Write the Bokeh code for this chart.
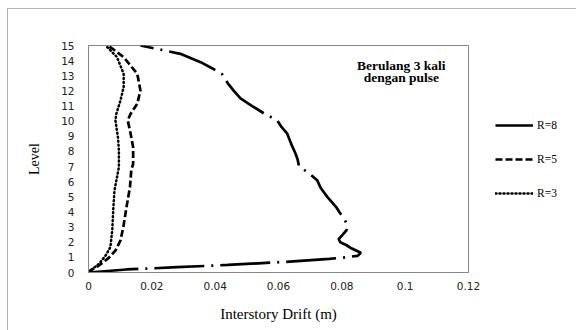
from bokeh.plotting import figure
from bokeh.models import Legend, LegendItem, Label, FixedTicker, Range1d
from bokeh.embed import file_html
from bokeh.resources import INLINE

# ---- data ----
levels_r8 = [0, 0.2, 0.35, 0.5, 0.7, 0.9, 1.0, 1.1, 1.3, 1.6, 1.8, 2.0, 2.2, 2.5, 2.8, 3.1,
             3.45, 4.0, 4.3, 5.0, 5.6, 6.1, 6.5, 6.75, 7.0, 7.5, 7.85, 8.5, 9.2, 9.6, 10.05,
             10.5, 11.0, 11.5, 12.0, 12.5, 13.1, 13.5, 13.9, 14.45, 14.7, 15.0]
drift_r8 = [0, 0.012, 0.028, 0.044, 0.062, 0.076, 0.081, 0.085, 0.086, 0.083, 0.0815, 0.0795,
            0.079, 0.0803, 0.0815, 0.0818, 0.081, 0.0792, 0.0783, 0.0754, 0.0733, 0.0722, 0.070,
            0.0683, 0.0665, 0.066, 0.0654, 0.064, 0.0627, 0.061, 0.0596, 0.0555, 0.0517, 0.048,
            0.0459, 0.044, 0.0422, 0.039, 0.0354, 0.029, 0.0233, 0.0164]

levels_r5 = [0, 0.13, 0.46, 0.97, 1.45, 2.12, 3.0, 4.32, 5.64, 6.74, 7.18, 8.28, 9.17, 10.05,
             10.49, 11.15, 12.03, 13.13, 14.23, 14.8, 15.0]
drift_r5 = [0, 0.0006, 0.0033, 0.0064, 0.0085, 0.0101, 0.011, 0.012, 0.0131, 0.0135, 0.0141,
            0.0141, 0.0133, 0.0124, 0.0133, 0.0154, 0.0164, 0.0154, 0.0111, 0.0075, 0.006]

levels_r3 = [0, 0.13, 0.57, 1.12, 1.67, 2.78, 4.1, 5.42, 6.08, 6.96, 8.06, 8.94, 10.05, 10.49,
             11.37, 12.25, 13.13, 14.23, 14.9, 15.0]
drift_r3 = [0, 0.0006, 0.0033, 0.0054, 0.0069, 0.0075, 0.0078, 0.0082, 0.0088, 0.0096, 0.0096,
            0.0093, 0.0085, 0.0088, 0.0101, 0.0111, 0.0111, 0.009, 0.0059, 0.0055]

series_names = ["R=8", "R=5", "R=3"]
x_ticks = [0, 0.02, 0.04, 0.06, 0.08, 0.1, 0.12]
x_tick_labels = ["0", "0.02", "0.04", "0.06", "0.08", "0.1", "0.12"]
y_ticks = list(range(0, 16))

x_title = "Interstory Drift (m)"
y_title = "Level"
note_lines = ["Berulang 3 kali", "dengan pulse"]

# ---- figure ----
p = figure(frame_width=380, frame_height=227,
           x_range=Range1d(0, 0.12), y_range=Range1d(0, 15),
           output_backend="svg", toolbar_location=None,
           min_border_left=80, min_border_top=36, min_border_right=106, min_border_bottom=59)
p.styles = {"border": "1px solid #b4b4b4", "margin-left": "7px", "margin-top": "8px"}
p.background_fill_color = "white"
p.border_fill_color = "white"
p.outline_line_color = "#868686"
p.outline_line_width = 1
p.grid.visible = False

for ax in (p.xaxis[0], p.yaxis[0]):
    ax.axis_line_color = "#868686"
    ax.major_tick_line_color = None
    ax.minor_tick_line_color = None
    ax.major_tick_out = 0
    ax.major_tick_in = 0
    ax.major_label_text_font = "DejaVu Sans"
    ax.major_label_text_font_size = "10.5px"
    ax.major_label_text_color = "#222222"
    ax.axis_label_text_font = "Liberation Serif"
    ax.axis_label_text_font_style = "normal"
    ax.axis_label_text_color = "black"

p.xaxis.ticker = FixedTicker(ticks=x_ticks)
p.xaxis.major_label_overrides = {t: l for t, l in zip(x_ticks, x_tick_labels)}
p.xaxis.major_label_standoff = 9
p.xaxis.axis_label = x_title
p.xaxis.axis_label_text_font_size = "15px"
p.xaxis.axis_label_standoff = 13

p.yaxis.ticker = FixedTicker(ticks=y_ticks)
p.yaxis.major_label_standoff = 14
p.yaxis.axis_label = y_title
p.yaxis.axis_label_text_font_size = "14px"
p.yaxis.axis_label_standoff = 16

r8 = p.line(drift_r8, levels_r8, line_color="black", line_width=2.7,
            line_dash="50 7 2 7", line_cap="butt")
r5 = p.line(drift_r5, levels_r5, line_color="black", line_width=2.7,
            line_dash="7 3")
r3 = p.line(drift_r3, levels_r3, line_color="black", line_width=2.5,
            line_dash="1 3", line_cap="round")

legend = Legend(items=[LegendItem(label=series_names[0], renderers=[r8]),
                       LegendItem(label=series_names[1], renderers=[r5]),
                       LegendItem(label=series_names[2], renderers=[r3])],
                location=(27, 69), orientation="vertical")
legend.glyph_width = 38
legend.glyph_height = 20
legend.label_height = 20
legend.spacing = 14
legend.label_standoff = 4
legend.padding = 0
legend.margin = 0
legend.border_line_color = None
legend.background_fill_alpha = 0
legend.label_text_font = "Liberation Serif"
legend.label_text_font_size = "11.5px"
legend.label_text_color = "black"
p.add_layout(legend, "right")

for i, line in enumerate(note_lines):
    p.add_layout(Label(x=0.0988, y=13.68 - i * 0.8, text=line,
                       text_font="Liberation Serif", text_font_style="bold",
                       text_font_size="13.5px", text_align="center",
                       text_baseline="middle", text_color="black"))

open("out.html", "w").write(file_html(p, INLINE))
